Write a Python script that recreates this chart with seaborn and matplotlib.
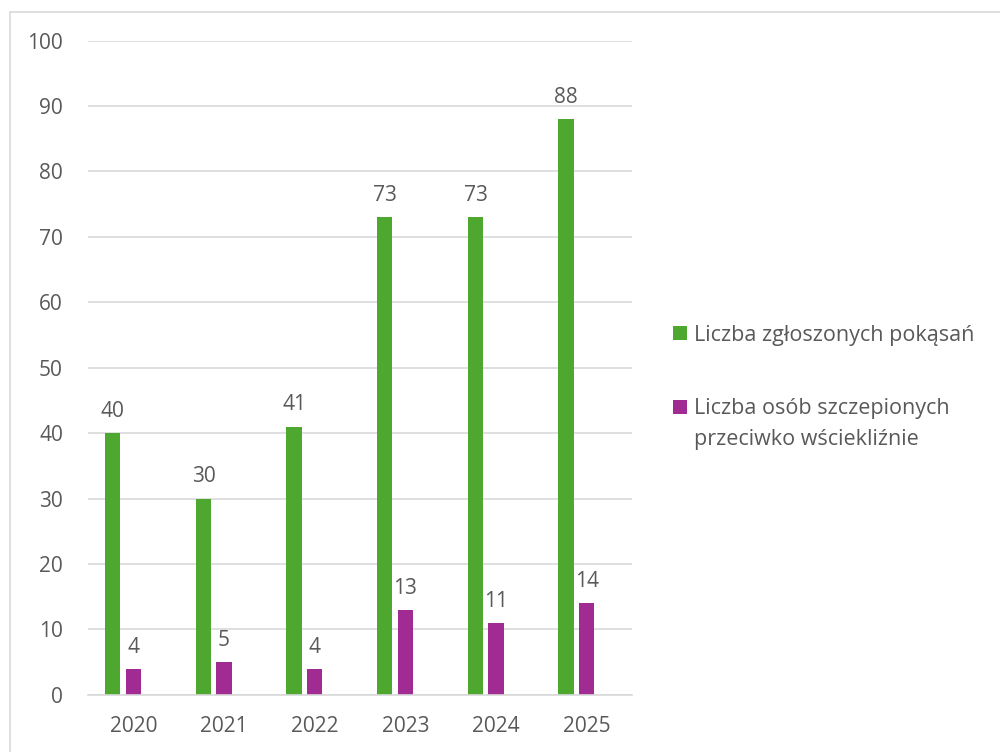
import matplotlib
matplotlib.use("Agg")
import matplotlib.pyplot as plt
import pandas as pd
import seaborn as sns
from matplotlib.patches import Patch
from matplotlib.lines import Line2D

years = ["2020", "2021", "2022", "2023", "2024", "2025"]
bites = [40, 30, 41, 73, 73, 88]
vaccinated = [4, 5, 4, 13, 11, 14]
series_names = ["Liczba zgłoszonych pokąsań",
                "Liczba osób szczepionych przeciwko wściekliźnie"]
colors = ["#4EA72E", "#A02B93"]
y_ticks = [0, 10, 20, 30, 40, 50, 60, 70, 80, 90, 100]

sns.set_theme(style="white")
plt.rcParams["font.family"] = ["Open Sans", "DejaVu Sans"]
text_color = "#595959"
grid_color = "#D9D9D9"
fs = 15
legend_fs = 15.5

df = pd.DataFrame({
    "year": years * 2,
    "value": bites + vaccinated,
    "series": [series_names[0]] * len(years) + [series_names[1]] * len(years),
})

fig = plt.figure(figsize=(10, 7.52), dpi=100)
ax = fig.add_axes([0.088, 0.076, 0.544, 0.870])

# third, empty slot keeps the Excel-like offset of each bar pair
hue_order = series_names + ["_pad"]
palette = {series_names[0]: colors[0], series_names[1]: colors[1], "_pad": "white"}
sns.barplot(data=df, x="year", y="value", hue="series", hue_order=hue_order,
            palette=palette, width=0.68, gap=0.25, ax=ax, legend=False,
            edgecolor="none", linewidth=0, saturation=1)

ax.set_xlim(-0.5, 5.5)
ax.set_ylim(0, 100)
ax.set_yticks(y_ticks)
ax.yaxis.grid(True, color=grid_color, linewidth=1.2)
ax.set_axisbelow(True)
for s in ["top", "right", "left"]:
    ax.spines[s].set_visible(False)
ax.spines["bottom"].set_color(grid_color)
ax.spines["bottom"].set_linewidth(1.2)
ax.tick_params(axis="both", length=0, labelsize=fs, colors=text_color)
ax.tick_params(axis="y", pad=18)
ax.tick_params(axis="x", pad=15)
ax.set_xlabel("")
ax.set_ylabel("")

# value labels above each bar
for container in ax.containers:
    labels = []
    for v in container.datavalues:
        labels.append("" if pd.isna(v) else f"{int(v)}")
    ax.bar_label(container, labels=labels, padding=8, fontsize=fs, color=text_color)

# legend: the long second label wraps onto a continuation line below its entry
first_lines = [series_names[0], "Liczba osób szczepionych"]
handles = [Patch(facecolor=colors[0], edgecolor="none"),
           Patch(facecolor=colors[1], edgecolor="none")]
leg = fig.legend(handles, first_lines, loc="upper left",
                 bbox_to_anchor=(0.654, 0.594), frameon=False, fontsize=legend_fs,
                 handlelength=0.65, handleheight=0.65, handletextpad=0.3,
                 labelspacing=2.45)
for t in leg.get_texts():
    t.set_color(text_color)
fig.canvas.draw()
second = leg.get_texts()[1]
bb = second.get_window_extent()
fig.text(bb.x0 / fig.bbox.width, (bb.y0 + bb.height / 2 - 31) / fig.bbox.height,
         "przeciwko wściekliźnie", fontsize=legend_fs, color=text_color,
         ha="left", va="center")

# outer frame of the chart area
fig.add_artist(Line2D([0.010, 1.0], [1 - 12 / 752, 1 - 12 / 752],
                      transform=fig.transFigure, color=grid_color, linewidth=1.2))
fig.add_artist(Line2D([0.010, 0.010], [0.0, 1 - 12 / 752],
                      transform=fig.transFigure, color=grid_color, linewidth=1.2))

fig.savefig("out.png", dpi=100, facecolor="white")
